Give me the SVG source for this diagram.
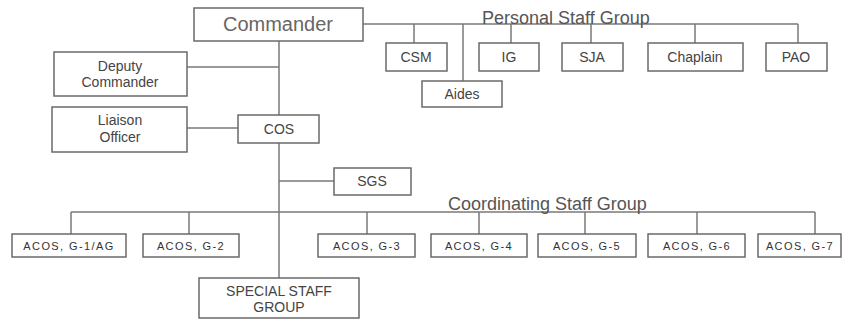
<svg xmlns="http://www.w3.org/2000/svg" width="845" height="320" viewBox="0 0 845 320">
<style>
.box{fill:#fff;stroke:#6a6a6a;stroke-width:1.5}
.ln{stroke:#7a7a7a;stroke-width:1.5;fill:none}
text{font-family:"Liberation Sans",Arial,sans-serif;fill:#444;text-anchor:middle}
.big{font-size:20px;fill:#666}
.grp{font-size:18px;fill:#555;text-anchor:start}
.mid{font-size:14px}
.sm{font-size:11px;letter-spacing:1.4px;fill:#333}
</style>
<rect width="845" height="320" fill="#fff"/>
<g id="connectors">
<path class="ln" d="M363 24H798M414 24V43M463 24V81M511 24V43M591 24V43M695 24V43M798 24V43"/>
<path class="ln" d="M279 41V115M279 143V278M187 67H279M187 128H238M279 181H334"/>
<path class="ln" d="M71 212H815M71 212V234M189 212V234M367 212V234M479 212V234M585 212V234M697 212V234M815 212V234"/>
</g>
<text class="grp" x="482" y="24">Personal Staff Group</text>
<text class="grp" x="448" y="210">Coordinating Staff Group</text>
<g id="commander"><rect class="box" x="194" y="8" width="169" height="33"/><text class="big" x="278" y="31">Commander</text></g>
<g id="csm"><rect class="box" x="386" y="43" width="61" height="28"/><text class="mid" x="416" y="62">CSM</text></g>
<g id="ig"><rect class="box" x="479" y="43" width="60" height="28"/><text class="mid" x="509" y="62">IG</text></g>
<g id="sja"><rect class="box" x="562" y="43" width="61" height="28"/><text class="mid" x="592" y="62">SJA</text></g>
<g id="chaplain"><rect class="box" x="648" y="43" width="95" height="28"/><text class="mid" x="695" y="62">Chaplain</text></g>
<g id="pao"><rect class="box" x="766" y="43" width="61" height="28"/><text class="mid" x="796" y="62">PAO</text></g>
<g id="aides"><rect class="box" x="422" y="81" width="80" height="26"/><text class="mid" x="462" y="99">Aides</text></g>
<g id="deputy"><rect class="box" x="54" y="52" width="133" height="44"/><text class="mid" x="120" y="71">Deputy</text><text class="mid" x="120" y="87">Commander</text></g>
<g id="liaison"><rect class="box" x="52" y="107" width="135" height="45"/><text class="mid" x="120" y="125">Liaison</text><text class="mid" x="120" y="142">Officer</text></g>
<g id="cos"><rect class="box" x="238" y="115" width="81" height="28"/><text class="mid" x="279" y="134">COS</text></g>
<g id="sgs"><rect class="box" x="334" y="168" width="77" height="27"/><text class="mid" x="372" y="186">SGS</text></g>
<g id="g1"><rect class="box" x="12" y="234" width="114" height="23"/><text class="sm" x="69" y="249.5">ACOS, G-1/AG</text></g>
<g id="g2"><rect class="box" x="143" y="234" width="96" height="23"/><text class="sm" x="191" y="249.5">ACOS, G-2</text></g>
<g id="g3"><rect class="box" x="318" y="234" width="97" height="23"/><text class="sm" x="367" y="249.5">ACOS, G-3</text></g>
<g id="g4"><rect class="box" x="431" y="234" width="96" height="23"/><text class="sm" x="479" y="249.5">ACOS, G-4</text></g>
<g id="g5"><rect class="box" x="538" y="234" width="98" height="23"/><text class="sm" x="587" y="249.5">ACOS, G-5</text></g>
<g id="g6"><rect class="box" x="648" y="234" width="97" height="23"/><text class="sm" x="697" y="249.5">ACOS, G-6</text></g>
<g id="g7"><rect class="box" x="758" y="234" width="83" height="23"/><text class="sm" x="800" y="249.5">ACOS, G-7</text></g>
<g id="special"><rect class="box" x="199" y="278" width="160" height="40"/><text class="mid" x="279" y="296">SPECIAL STAFF</text><text class="mid" x="279" y="312">GROUP</text></g>
</svg>
